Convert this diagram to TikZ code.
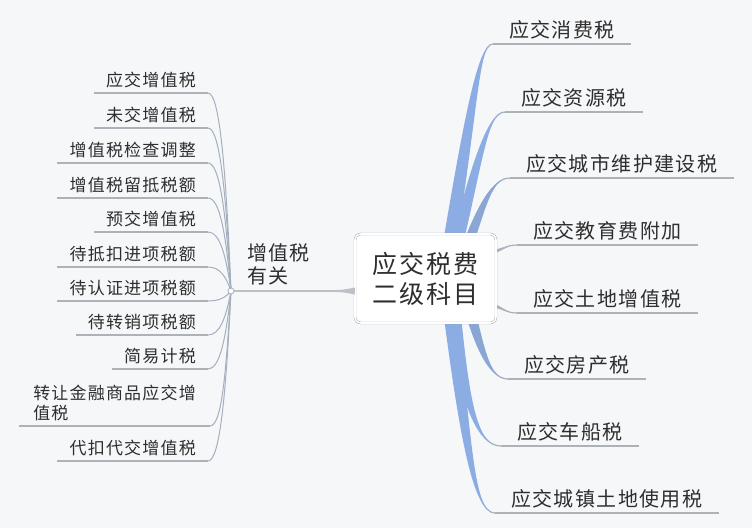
\documentclass[tikz,border=0pt]{standalone}
\usepackage{fontspec}
\newfontfamily\cjk[LetterSpace=7]{Noto Sans CJK SC}
\usetikzlibrary{calc}
\definecolor{bg}{HTML}{F6F7F9}
\definecolor{txt}{HTML}{2E2E2E}
\definecolor{ulc}{HTML}{ADB2B9}
\definecolor{lline}{HTML}{A5AFBE}
\definecolor{blu}{HTML}{8CADE3}
\definecolor{gbr}{HTML}{A9B2BE}
\definecolor{boxc}{HTML}{9C9C9C}
\definecolor{hubl}{HTML}{BCC1C8}
% tapered branch, vertical start
\newcommand\vbranch[6]{%
  \draw[ulc, line width=1.2pt] (#1) .. controls (#2) and (#3) .. (#4);
  \fill[#6] ($(#1)+(-#5,0)$) .. controls ($(#2)+(-#5,0)$) and (#3) .. (#4)
     .. controls (#3) and ($(#2)+(#5,0)$) .. ($(#1)+(#5,0)$) -- cycle;}
% tapered branch, horizontal start
\newcommand\hbranch[6]{%
  \draw[ulc, line width=1.2pt] (#1) .. controls (#2) and (#3) .. (#4);
  \fill[#6] ($(#1)+(0,-#5)$) .. controls ($(#2)+(0,-#5/2)$) and (#3) .. (#4)
     .. controls (#3) and ($(#2)+(0,#5/2)$) .. ($(#1)+(0,#5)$) -- cycle;}
\begin{document}
\begin{tikzpicture}[x=1pt,y=-1pt,
  ritem/.style={font=\cjk\fontsize{20}{24}\selectfont, text=txt, inner xsep=16pt,
    inner ysep=6pt, text depth=0pt, anchor=south west},
  litem/.style={font=\cjk\fontsize{17}{20}\selectfont, text=txt, inner xsep=12pt,
    inner ysep=6pt, text depth=0pt, anchor=south east, align=left},
  ulline/.style={draw=ulc, line width=1.1pt},
  lconn/.style={draw=lline, line width=1pt},
  centre/.style={draw=boxc, double=white, double distance=1.6pt, fill=white,
    rounded corners=6pt, minimum width=141pt, minimum height=89pt,
    font=\cjk\fontsize{25}{30}\selectfont, align=center, text=txt, inner sep=0pt}]
\useasboundingbox (0,0) rectangle (752,528);
\fill[bg] (0,0) rectangle (752,528);

\coordinate (c0) at (425.5,278.5);
% right items
\node[ritem] (r1) at (493,44) {应交消费税};
\node[ritem] (r2) at (505,112) {应交资源税};
\node[ritem] (r3) at (510,178) {应交城市维护建设税};
\node[ritem] (r4) at (517,245) {应交教育费附加};
\node[ritem] (r5) at (517,313) {应交土地增值税};
\node[ritem] (r6) at (508,379) {应交房产税};
\node[ritem] (r7) at (501,446) {应交车船税};
\node[ritem] (r8) at (495,513) {应交城镇土地使用税};
\foreach \r in {r1,r2,r3,r4,r5,r6,r7,r8}
  \draw[ulline] (\r.south west) -- (\r.south east);

% branch starts (behind the centre box)
\coordinate (s1) at ($(c0)+(18.5,0)$);
\coordinate (s2) at ($(c0)+(22.5,0)$);
\coordinate (s3) at ($(c0)+(30.5,0)$);
\coordinate (s4) at ($(c0)+(55,-23)$);
\coordinate (s5) at ($(c0)+(55,22)$);
\coordinate (s6) at ($(c0)+(36.5,0)$);
\coordinate (s7) at ($(c0)+(25.5,0)$);
\coordinate (s8) at ($(c0)+(20.5,0)$);

\vbranch{s1}{472,110}{478,44}{r1.south west}{7}{blu}
\vbranch{s2}{476,170}{486,112}{r2.south west}{6.5}{blu}
\vbranch{s3}{480,210}{490,178}{r3.south west}{6}{blu!85!gray}
\hbranch{s4}{505,250}{505,245}{r4.south west}{3}{gbr}
\hbranch{s5}{505,308}{505,313}{r5.south west}{3}{gbr}
\vbranch{s6}{478,345}{488,379}{r6.south west}{6}{blu!85!gray}
\vbranch{s7}{462,400}{476,446}{r7.south west}{6.5}{blu}
\vbranch{s8}{465,430}{472,513}{r8.south west}{7}{blu}

% left items
\coordinate (hubpt) at (231,291);
\node[litem] (l1) at (208,93) {应交增值税};
\node[litem] (l2) at (208,128) {未交增值税};
\node[litem] (l3) at (208,163) {增值税检查调整};
\node[litem] (l4) at (208,198) {增值税留抵税额};
\node[litem] (l5) at (208,232) {预交增值税};
\node[litem] (l6) at (208,267) {待抵扣进项税额};
\node[litem] (l7) at (208,301) {待认证进项税额};
\node[litem] (l8) at (208,335) {待转销项税额};
\node[litem] (l9) at (208,369) {简易计税};
\node[litem, inner xsep=14pt] (l10) at (210,426) {转让金融商品应交增\\值税};
\node[litem] (l11) at (208,461) {代扣代交增值税};
\foreach \l/\y in {l1/93,l2/128,l3/163,l4/198,l5/232,l6/267,l7/301,l8/335,l9/369,l10/426,l11/461}{
  \draw[ulline] (\l.south west) -- (\l.south east);
  \draw[lconn] (\l.south east) .. controls +(12,0) and +(-5,{0.6*(\y-291)}) .. (hubpt);
}

% centre box and link to the hub
\node[centre] (c) at (c0) {应交税费\\二级科目};
\coordinate (cl) at (c.west |- hubpt);
\fill[hubl] ($(hubpt)+(0,-0.8)$) -- ($(cl)+(-30,-0.9)$) .. controls ($(cl)+(-12,-1)$) .. ($(cl)+(0,-3.5)$)
  -- ($(cl)+(0,3.5)$) .. controls ($(cl)+(-12,1)$) .. ($(cl)+(-30,0.9)$) -- ($(hubpt)+(0,0.8)$) -- cycle;
\node[circle, draw=lline, fill=white, inner sep=0pt, minimum size=6pt, line width=0.8pt] (hub) at (hubpt) {};
\node[font=\cjk\fontsize{20}{23}\selectfont, align=left, anchor=north west, inner sep=0pt, text=txt]
  (vat) at (247,243) {增值税\\有关};
\end{tikzpicture}
\end{document}
